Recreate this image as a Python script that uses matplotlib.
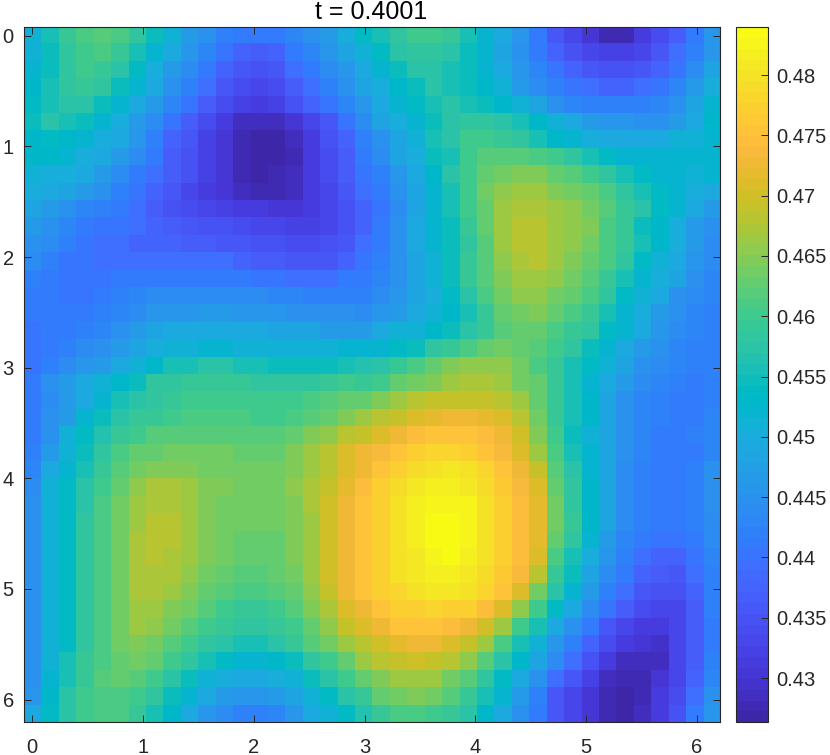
import numpy as np
import matplotlib
matplotlib.use("Agg")
import matplotlib.pyplot as plt
from matplotlib.colors import ListedColormap

TITLE = "t = 0.4001"
N = 40
X_TICKS = [0, 1, 2, 3, 4, 5, 6]
Y_TICKS = [0, 1, 2, 3, 4, 5, 6]
CBAR_TICKS = [0.43, 0.435, 0.44, 0.445, 0.45, 0.455, 0.46, 0.465, 0.47, 0.475, 0.48]
VMIN, VMAX = 0.42633, 0.48398

# Field values, in thousandths: columns 0-19 and 20-39 per row
LEFT = [
[451,456,459,461,462,461,458,455,451,447,445,442,441,441,441,443,445,447,450,454],
[451,455,458,460,461,459,456,452,449,446,443,440,438,437,438,441,443,446,448,451],
[452,455,458,460,459,457,454,450,447,444,441,438,436,435,436,439,441,444,446,449],
[453,456,458,459,458,455,452,449,445,442,439,436,434,433,434,437,439,442,445,448],
[454,456,457,457,455,452,449,447,443,440,437,434,432,431,432,435,438,440,443,446],
[455,457,456,455,452,450,447,444,440,437,434,431,429,428.5,429,430,433,436,440,444],
[453,454,453,452,450,449,446,442,438,435.5,432.5,430.5,428,427,427,429,431,435,438,442],
[453,453,452,450,449,447,444,441,437,435,432,430,427.5,426.5,427,428,431,434,437,441],
[451,450,450,449,447,444,441,439,437,434.5,432,430,428,427,427.5,429,431,434,437,440],
[450,449,448,447,445,442,440,438,436,433.5,431.5,430,428.5,428,428,429,431,433.5,436,439],
[448,447,445,443,442,441,439,437,435,434,433,432,431,431,430,430,431,433,435,438],
[447,445,443,441,440,440,439,438,437,436,435,435,434,433,433,432,432,433,435,438],
[445,444,442,440,439,439,438,438,438,437,437,436,436,435,435,434,434,435,436,439],
[444,442,440,440,439,439,439,439,439,439,439,439,438,437,437,436,436,436,438,440],
[442,441,440,440,440,441,441,441,441,441,441,441,441,440,440,439,439,439,441,441],
[441,441,440,440,441,442,443,444,444,444,444,444,444,444,443,443,442,442,442,442],
[441,441,441,441,442,443,444,446,446,446,447,447,446,446,446,445,445,445,445,444],
[440,441,441,442,443,445,447,448,449,449,449,449,449,449,448,448,448,447,447,447],
[440,441,442,444,445,447,448,450,451,451,452,452,451,451,451,451,451,451,452,452],
[440,442,444,446,447,449,451,453,456,456,457,457,456,456,455,455,455,455,456,456.5],
[441,445,447,449,451,453,455,458,458,459,459,459,459,458,458,458,458,459,460,459.5],
[441,444,447,449,452,456,457,458,459,460,460,460,460,460,460,460,461,462,463,462.5],
[441,445,447,452,455,457,459,459,460,461,461,461,461,460,460,461,461.5,463,464.5,466.5],
[441,445,451,454,456.5,459,460.5,462,462,462,462,462,462,462,462,463,464.5,465.5,468,469.5],
[442,447,451,455,458,461,462.5,463,463.5,463.5,463.5,463.5,463,463,463,464.5,466,468,470.5,472.5],
[443,449,452,456,459.5,462,464,465,465,464.5,464,464,463.5,463.5,463.5,464.5,466,468.5,471,473],
[444,451,454,457,460,463,465.5,467,467,466,465,464.5,464,464,464,465.5,467,469.5,472,474.5],
[445,451,454,457,461,463.5,466,467.5,467.5,466.5,465,464,463.5,463.5,463.5,465,467,470,473,475.5],
[445,451,454,458,461,464,466.5,468,468,466.5,465,464,463.5,463.5,463.5,465,466.5,470,473,475.5],
[445,451,454,458,461,464,467,468,468,466.5,465,463.5,463,463,463,464.5,466.5,470,473,475.5],
[445,451,454,458,461,464,467,468,467.5,466,465,463.5,462.5,462.5,463,464.5,466.5,470,473,475.5],
[445,451,454,458,461,464,467,467.5,467,465.5,464,463,462,462,462.5,464,466.5,470,473,475.5],
[445,451,454,458,461,464,467,467,466,464.5,463,462,461,461,461.5,463,465.5,469,472.5,475],
[445,451,454,458,461,464,466.5,466.5,465,463.5,461.5,460.5,459.5,459.5,460.5,462,464.5,467.5,470.5,473],
[445,451,454,458,461,464,466,465.5,463.5,462,460,459,458,458,459,460.5,463,465.5,469,471],
[445,451,454,458,461,464,465,464,462,460,458.5,457,456,456,457,459,461.5,464,466.5,468.5],
[445,451,456,459,461,463,464,463,460,458,456,454,452,452,453,455,458,460,463,466],
[445,452,456,459,462,463,462,460,457,455,451,450,449,449,450,451,455,457,460,462.5],
[446,453,457,460,461,461,460,458,455,452,449,447,446,446,447,448,451,454,457,459.5],
[449,454,457,460,461,461,459,456,453,449,446,444,442,442,443,446,449,451,454,456.5],
]
RIGHT = [
[456,458,460,460,459,456,452,449,446,441,436,433,430,428,428,431,434,437,441,446],
[454,457,458,458,457,455,452,448,445,441,438,435,433,432,432,433,436,439,442,446],
[452,455,457,457,456,455,452,449,446,443,440,438,436,435,435,436,438,440,444,448],
[450,453,455,457,456,455,453,451,447,444,442,440,439,438,438,439,440,443,447,450],
[449,452,454,456,457,456,455,453,451,448,445,443,442,442,442,442,443,445,448,452],
[448,450,452,455,457,458,458,457,456,453,451,449,447,446,446,445,445,447,449,453],
[445,448,451,456,457,460,460,459,458,456,453,452,450,449,449,449,449,451,451,452],
[444,448,450,455,456,460,461.5,462,462,461,460,458,456,454,452,452,452,452,452,452],
[442,446,449,453,457,460,462.5,464,464.5,465,463,462,460,458,456,454,452,452,451,452],
[441,445,448,452,456,460.5,463.5,465.5,466,466,465,464,463,461,458,456,454,452,450,449],
[440,444,448,452,456,460,463,466,467.5,467.5,466.5,465.5,464,462,459,457,454,452,449,447],
[441,445,449,452,455,459,462.5,466,468,468,466.5,465.5,464.5,461,459,455,452.5,450,447,445],
[441,445,449,452,455,458.5,462,466,468,468.5,466.5,465.5,464,461,459,456,452.5,450,447,444],
[442,445,448,451,455,459,462,465.5,467.5,468,466,465,463,461,458,454,451,449,446,444],
[443,445,448,451,455,459,462,465,466.5,466.5,465.5,464,462,459,456,452,450,448,445,443],
[444,446,448,450,454,457.5,461,464,465.5,465.5,464,463,461,458,454,451,449,445,444,443],
[446,447,449,451,453,456,459,463,464,464.5,463,461,459,456,452,450,447,445,443,442],
[449,451,451,453,455,457,459,462,463,463,461,459,458,454,452,449,446,444,443,442],
[452,454,455,458,459,461,463,464,463,462,460,458,455,452,449,447,445,443,442,442],
[457,459,461,463,464.5,465.5,465.5,465.5,464,461,459,456,454,451,448,445,444,443,442,442],
[460.5,462.5,464,465,466.5,467,467,466,464,462.5,459.5,456,452,449,447,444,443,442,441,442],
[465,466.5,468,469,469.5,469.5,469,468,466,463,459.5,456,452.5,448,445,443,442,441,441,442],
[468,469.5,471,472,473,473,472,470.5,468,463.5,459.5,455.5,452.5,448,445,443,442,441,441,443],
[471,473,474.5,475.5,475.5,475.5,474.5,473,470,465,460,455,451,448,445,443,441,441,442,443],
[473.5,475.5,477,478.5,478.5,477.5,475.5,473.5,471,466.5,461,456,452,448,445,443,441,441,441,443],
[475.5,477.5,479,480,480.5,480,478,475.5,473,469.5,462,457,452,448,444,442,441,441,442,445],
[477,479,480.5,481.5,482,481,479,476.5,474,470.5,463,458,453,448,444,442,441,441,442,445],
[477.5,480,481.5,483,483,482.5,480,477,474.5,471.5,463.5,458,453,448,444,442,441,441,442,445],
[477.5,479.5,481.5,484,484,483,480,477,474.5,471.5,464,459,453,448,444,442,441,441,442,444],
[477.5,479.5,481.5,484,484,482.5,480,477,474.5,471.5,462.5,458,452,447,443,441,440,440,441,444],
[477.5,479.5,481,483,483.5,482,479.5,477,474.5,470.5,461,456,450,446,442,439,438,438,440,443],
[477.5,479.5,480.5,481.5,482,481,479,476.5,474,468,459,455,448,444,441,438,437,436,439,442],
[477,478.5,479.5,480.5,480.5,480,478,475.5,471,464,457,452,447,442,439,436,435,435,438,442],
[475.5,477,477.5,478,477.5,477,474.5,471,465.5,460.5,453.5,449,444,440,437,434,433,433,437,442],
[473,475,475,475,474.5,473,470,466,460.5,455.5,449,445,441,436,433,431,431,433,437,441],
[470,472,472.5,472.5,471,469,466,461,456,451,446,442,438,434,431,430,429.5,433,437,441],
[468,469,470,469.5,468,465.5,461.5,457,452.5,448,444,439,435,431,429,428.5,429,433,437,442],
[464.5,466,466.5,466,464,461.5,458,454,449,445,439,436,432,429,428,428,430,433,438,443],
[462.5,463.5,464.5,464,462,459,456,452,447,442,436,433,430,428,426.5,428,431,434,439,445],
[459,461,461,460.5,459,457,452.5,449,445,441,436,433,430,428,427,429,431,435,441,446],
]

# MATLAB parula colormap samples
PARULA = [
(.2422,.1504,.6603),(.2504,.1650,.7076),(.2578,.1818,.7511),(.2647,.1978,.7952),
(.2706,.2147,.8364),(.2751,.2342,.8710),(.2783,.2559,.8991),(.2803,.2782,.9221),
(.2813,.3006,.9414),(.2810,.3228,.9579),(.2795,.3447,.9717),(.2760,.3667,.9829),
(.2699,.3892,.9906),(.2602,.4123,.9952),(.2440,.4358,.9988),(.2206,.4603,.9973),
(.1963,.4847,.9892),(.1834,.5074,.9798),(.1786,.5289,.9682),(.1764,.5499,.9520),
(.1687,.5703,.9359),(.1540,.5902,.9218),(.1460,.6091,.9079),(.1380,.6276,.8973),
(.1248,.6459,.8883),(.1113,.6635,.8763),(.0952,.6798,.8598),(.0689,.6948,.8394),
(.0297,.7082,.8163),(.0036,.7203,.7917),(.0067,.7312,.7660),(.0433,.7411,.7394),
(.0964,.7500,.7120),(.1408,.7584,.6842),(.1717,.7670,.6554),(.1938,.7758,.6251),
(.2161,.7843,.5923),(.2470,.7918,.5567),(.2906,.7973,.5188),(.3406,.8008,.4789),
(.3909,.8029,.4354),(.4456,.8024,.3909),(.5044,.7993,.3480),(.5616,.7942,.3045),
(.6174,.7876,.2612),(.6720,.7793,.2227),(.7242,.7698,.1910),(.7738,.7598,.1646),
(.8203,.7498,.1535),(.8634,.7406,.1596),(.9035,.7330,.1774),(.9393,.7288,.2100),
(.9728,.7298,.2394),(.9956,.7434,.2371),(.9970,.7659,.2199),(.9952,.7893,.2028),
(.9892,.8136,.1885),(.9786,.8386,.1766),(.9676,.8639,.1643),(.9610,.8890,.1537),
(.9597,.9135,.1423),(.9628,.9373,.1265),(.9691,.9606,.1064),(.9769,.9839,.0805),
]

Z = np.hstack([np.array(LEFT, float), np.array(RIGHT, float)]) / 1000.0
h = 2 * np.pi / N
ext = [-h / 2, (N - 0.5) * h, (N - 0.5) * h, -h / 2]

W, H = 830, 755
plt.rcParams["font.family"] = ["Liberation Sans", "DejaVu Sans"]
INK = "#262626"
fig = plt.figure(figsize=(W / 100, H / 100), dpi=100)
ax = fig.add_axes([23.5 / W, 1 - 722.3 / H, 696 / W, 695.3 / H])
im = ax.imshow(Z, cmap=ListedColormap(PARULA), vmin=VMIN, vmax=VMAX,
               extent=ext, aspect="auto", interpolation="nearest")
ax.set_xticks(X_TICKS)
ax.set_yticks(Y_TICKS)
ax.tick_params(direction="in", length=5.3, width=0.7, color=INK, labelcolor=INK,
               labelsize=14.5, top=True, right=True)
ax.tick_params(axis="x", pad=11)
ax.tick_params(axis="y", pad=7)
for s in ax.spines.values():
    s.set_linewidth(0.8)
    s.set_color(INK)
ax.set_title(TITLE, fontsize=18, color="black", pad=6)

cax = fig.add_axes([735.7 / W, 1 - 722.3 / H, 32.6 / W, 695.3 / H])
cb = fig.colorbar(im, cax=cax)
cb.set_ticks(CBAR_TICKS)
cb.set_ticklabels([f"{t:g}" for t in CBAR_TICKS])
cax.tick_params(direction="in", length=5.3, width=0.7, color=INK, labelcolor=INK,
                labelsize=14.5, pad=6)
cb.outline.set_linewidth(0.8)
cb.outline.set_edgecolor(INK)

fig.savefig("out.png", dpi=100)
